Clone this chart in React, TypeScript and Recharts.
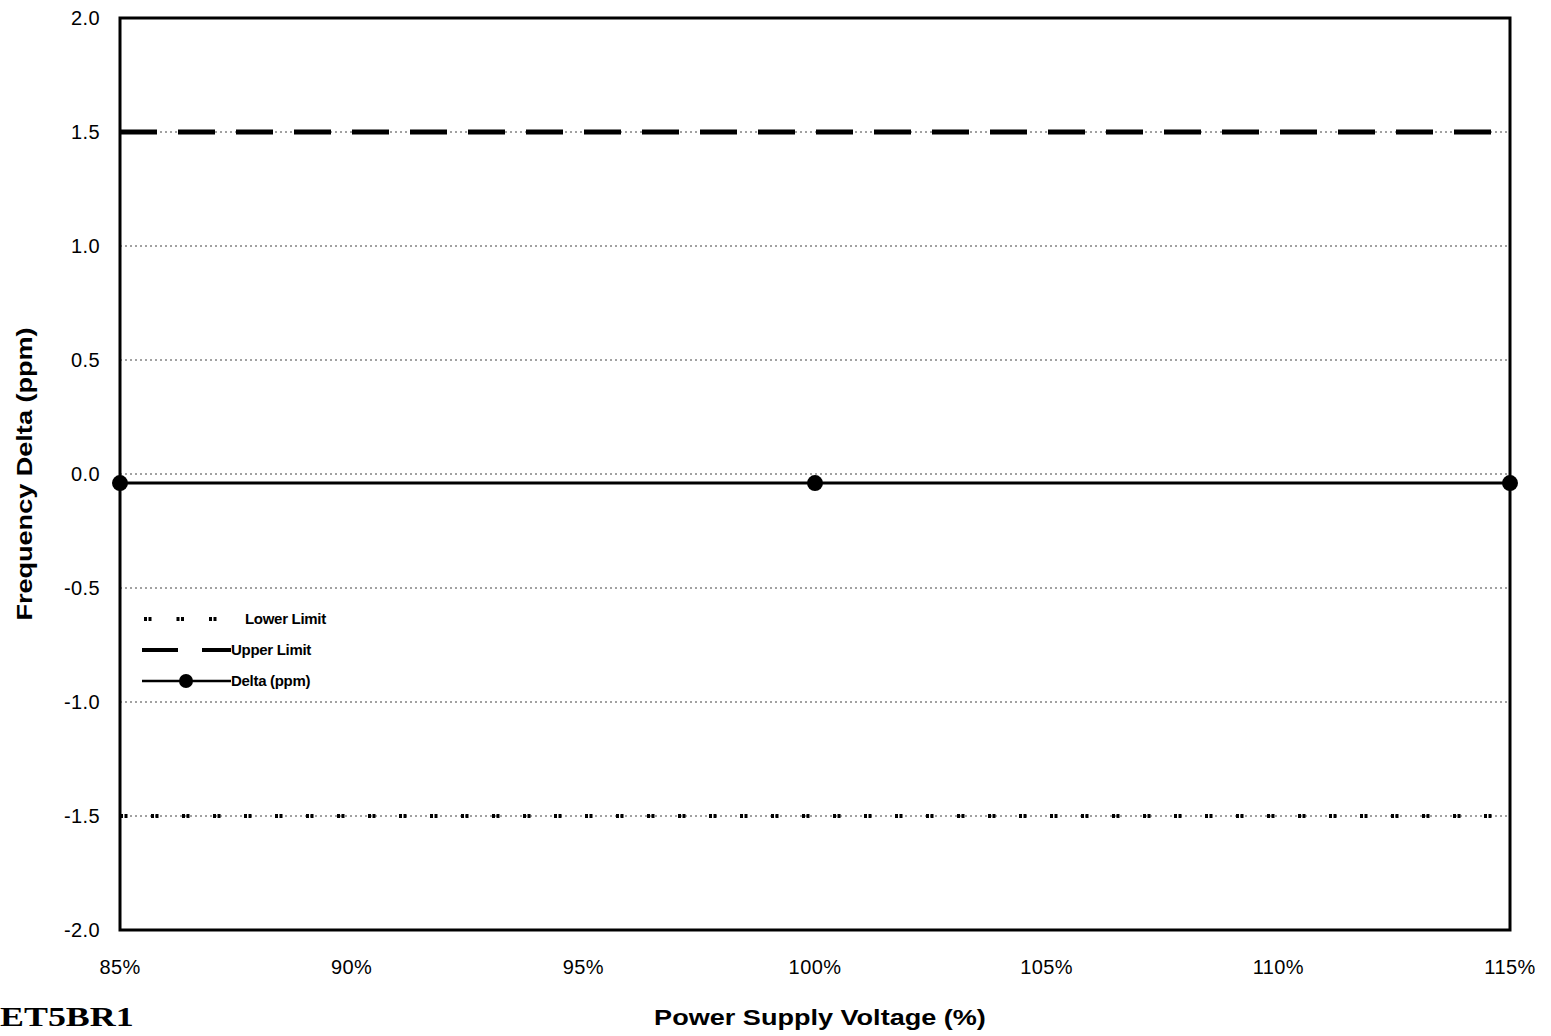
import React from "react";
import {
  LineChart,
  Line,
  XAxis,
  YAxis,
  CartesianGrid,
  ReferenceArea,
} from "recharts";

const voltages = [85, 100, 115];
const deltaPpm = [-0.04, -0.04, -0.04];
const lowerLimit = [-1.5, -1.5, -1.5];
const upperLimit = [1.5, 1.5, 1.5];
const xTicks = [85, 90, 95, 100, 105, 110, 115];
const yTicks = [-2, -1.5, -1, -0.5, 0, 0.5, 1, 1.5, 2];

const data = voltages.map((v, i) => ({
  voltage: v,
  lower: lowerLimit[i],
  upper: upperLimit[i],
  delta: deltaPpm[i],
}));

const FONT = "'Liberation Sans', Arial, Helvetica, sans-serif";

// legend drawn as plain html, recharts Legend would eat into the left offset
function LegendBox() {
  const row = { display: "flex", alignItems: "center", height: 31 } as const;
  const text = { fontSize: 15, fontWeight: 600, letterSpacing: -0.3, color: "#000" };
  return (
    <div style={{ position: "absolute", left: 142, top: 603, fontFamily: FONT }}>
      <div style={row}>
        <svg width={103} height={12}>
          <line x1={2} y1={6} x2={76} y2={6} stroke="#000" strokeWidth={4} strokeDasharray="3 1.5 3 25" />
        </svg>
        <span style={text}>Lower Limit</span>
      </div>
      <div style={row}>
        <svg width={89} height={12}>
          <line x1={0} y1={6} x2={89} y2={6} stroke="#000" strokeWidth={4} strokeDasharray="36 24" />
        </svg>
        <span style={text}>Upper Limit</span>
      </div>
      <div style={row}>
        <svg width={89} height={18}>
          <line x1={0} y1={9} x2={89} y2={9} stroke="#000" strokeWidth={2.5} />
          <circle cx={44} cy={9} r={7} fill="#000" />
        </svg>
        <span style={text}>Delta (ppm)</span>
      </div>
    </div>
  );
}

const tickStyle = { fontSize: 20, fill: "#000", fontFamily: FONT, letterSpacing: 0.4 };

export default function App() {
  return (
    <div
      style={{
        position: "absolute",
        left: 0,
        top: 0,
        width: 1551,
        height: 1036,
        background: "#fff",
        fontFamily: FONT,
      }}
    >
      <LineChart
        width={1551}
        height={1036}
        data={data}
        margin={{ top: 18, right: 41, bottom: 46, left: 0 }}
      >
        <CartesianGrid
          horizontal
          vertical={false}
          stroke="#444"
          strokeDasharray="2 3"
          strokeWidth={1}
        />
        <XAxis
          dataKey="voltage"
          type="number"
          domain={[85, 115]}
          ticks={xTicks}
          tickFormatter={(v) => `${v}%`}
          axisLine={false}
          tickLine={false}
          tickSize={0}
          tickMargin={30}
          height={60}
          tick={tickStyle}
        />
        <YAxis
          type="number"
          domain={[-2, 2]}
          ticks={yTicks}
          tickFormatter={(v) => v.toFixed(1)}
          axisLine={false}
          tickLine={false}
          tickSize={0}
          tickMargin={20}
          width={120}
          tick={tickStyle}
        />
        <ReferenceArea
          x1={85}
          x2={115}
          y1={-2}
          y2={2}
          fill="none"
          stroke="#000"
          strokeWidth={3}
          ifOverflow="visible"
        />
        <Line
          dataKey="lower"
          name="Lower Limit"
          stroke="#000"
          strokeWidth={4}
          strokeDasharray="3 1.5 3 23.5"
          dot={false}
          activeDot={false}
          isAnimationActive={false}
        />
        <Line
          dataKey="upper"
          name="Upper Limit"
          stroke="#000"
          strokeWidth={5}
          strokeDasharray="37 21"
          dot={false}
          activeDot={false}
          isAnimationActive={false}
        />
        <Line
          dataKey="delta"
          name="Delta (ppm)"
          stroke="#000"
          strokeWidth={3}
          dot={{ r: 8, fill: "#000", stroke: "#000", strokeWidth: 0 }}
          activeDot={false}
          isAnimationActive={false}
        />
      </LineChart>
      <LegendBox />
      <div
        style={{
          position: "absolute",
          left: 25,
          top: 474,
          transform: "translate(-50%, -50%) rotate(-90deg) scaleX(1.23)",
          whiteSpace: "nowrap",
          fontSize: 22,
          fontWeight: "bold",
        }}
      >
        Frequency Delta (ppm)
      </div>
      <div
        style={{
          position: "absolute",
          left: 820,
          top: 1018,
          transform: "translate(-50%, -50%) scaleX(1.23)",
          whiteSpace: "nowrap",
          fontSize: 22,
          fontWeight: "bold",
        }}
      >
        Power Supply Voltage (%)
      </div>
      <div
        style={{
          position: "absolute",
          left: 0,
          top: 1002,
          transformOrigin: "0 50%",
          transform: "scaleX(1.33)",
          fontFamily: "'Liberation Serif', 'Times New Roman', serif",
          fontSize: 27,
          fontWeight: "bold",
          whiteSpace: "nowrap",
        }}
      >
        ET5BR1
      </div>
    </div>
  );
}
